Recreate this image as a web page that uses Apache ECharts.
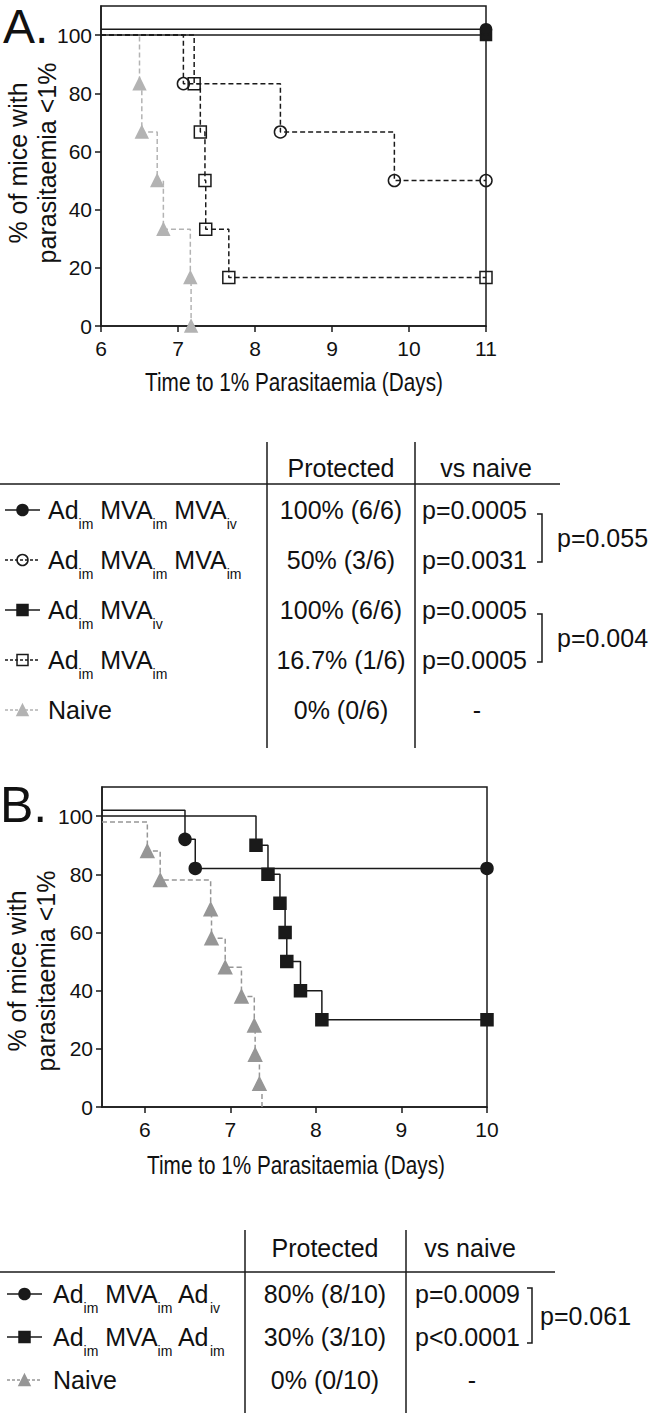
<!DOCTYPE html>
<html><head><meta charset="utf-8">
<script src="https://cdn.jsdelivr.net/npm/echarts@6/dist/echarts.min.js"></script>
<style>html,body{margin:0;padding:0;background:#fff}#c{width:650px;height:1413px}</style>
</head><body><div id="c"></div>
<script>
// ---------------- DATA ----------------
const panelLetters = ['A.', 'B.'];
const xTitle = 'Time to 1% Parasitaemia (Days)';
const yTitle = '% of mice with\nparasitaemia <1%';
const aXTicks = [6, 7, 8, 9, 10, 11];
const aYTicks = [0, 20, 40, 60, 80, 100];
const bXTicks = [6, 7, 8, 9, 10];
const bYTicks = [0, 20, 40, 60, 80, 100];

// Panel A: [day, % mice with parasitaemia <1%]
const aAdMvaMvaIv = [[6, 102], [11, 102]];
const aAdMvaIv    = [[6, 100], [11, 100]];
const aAdMvaMvaIm = [[6, 100], [7.07, 83.3], [8.33, 66.7], [9.81, 50], [11, 50]];
const aAdMvaIm    = [[6, 100], [7.21, 83.3], [7.29, 66.7], [7.35, 50], [7.36, 33.3], [7.66, 16.7], [11, 16.7]];
const aNaive      = [[6, 100], [6.50, 83.3], [6.53, 66.7], [6.73, 50], [6.81, 33.3], [7.16, 16.7], [7.17, 0]];

// Panel B
const bAdMvaAdIv = [[5.5, 102], [6.47, 92], [6.59, 82], [10, 82]];
const bAdMvaAdIm = [[5.5, 100], [7.30, 90], [7.44, 80], [7.58, 70], [7.64, 60], [7.66, 50], [7.82, 40], [8.07, 30], [10, 30]];
const bNaive     = [[5.5, 98], [6.03, 88], [6.18, 78], [6.77, 68], [6.78, 58], [6.94, 48], [7.13, 38], [7.28, 28], [7.29, 18], [7.34, 8], [7.37, 0]];

// Tables
const tableHeaders = ['Protected', 'vs naive'];
const tAGroups = [
  [['Ad', 'im'], ['MVA', 'im'], ['MVA', 'iv']],
  [['Ad', 'im'], ['MVA', 'im'], ['MVA', 'im']],
  [['Ad', 'im'], ['MVA', 'iv']],
  [['Ad', 'im'], ['MVA', 'im']],
  [['Naive', '']]
];
const tAProtected = ['100% (6/6)', '50% (3/6)', '100% (6/6)', '16.7% (1/6)', '0% (0/6)'];
const tAVsNaive = ['p=0.0005', 'p=0.0031', 'p=0.0005', 'p=0.0005', '-'];
const tAPairRows = [[0, 1], [2, 3]];
const tAPairP = ['p=0.055', 'p=0.004'];

const tBGroups = [
  [['Ad', 'im'], ['MVA', 'im'], ['Ad', 'iv']],
  [['Ad', 'im'], ['MVA', 'im'], ['Ad', 'im']],
  [['Naive', '']]
];
const tBProtected = ['80% (8/10)', '30% (3/10)', '0% (0/10)'];
const tBVsNaive = ['p=0.0009', 'p<0.0001', '-'];
const tBPairRows = [[0, 1]];
const tBPairP = ['p=0.061'];

// ---------------- STYLES ----------------
const FONT = "'Liberation Sans',Arial,Helvetica,sans-serif";
const INK = '#1a1a1a';
const GREY_A = '#b3b3b3';
const GREY_B = '#969696';
const STY = {
  fCircle: {symbol: 'circle', fill: INK, stroke: INK, dash: false},
  oCircle: {symbol: 'circle', fill: 'rgba(255,255,255,0)', stroke: INK, dash: true},
  fSquare: {symbol: 'rect', fill: INK, stroke: INK, dash: false},
  oSquare: {symbol: 'rect', fill: 'rgba(255,255,255,0)', stroke: INK, dash: true},
  triA: {symbol: 'triangle', fill: GREY_A, stroke: GREY_A, dash: true},
  triB: {symbol: 'triangle', fill: GREY_B, stroke: GREY_B, dash: true}
};

const chart = echarts.init(document.getElementById('c'), null, {renderer: 'svg', width: 650, height: 1413});

function km(data, sty, size, axis, markFirst, markLast, z) {
  return {
    type: 'line', xAxisIndex: axis, yAxisIndex: axis, step: 'end',
    data: data.map((p, i) => {
      const mark = (i === 0 ? markFirst : true) && (i === data.length - 1 ? markLast : true);
      return {value: p, symbol: mark ? sty.symbol : 'none'};
    }),
    symbol: sty.symbol, symbolSize: size, showAllSymbol: true,
    lineStyle: {color: sty.stroke, width: 1.5, type: sty.dash ? [5, 3] : 'solid'},
    itemStyle: {color: sty.fill, borderColor: sty.stroke, borderWidth: 1.5},
    emphasis: {disabled: true}, silent: true, animation: false, z: z
  };
}

function xAxisCfg(grid, min, max, ticks) {
  return {
    type: 'value', gridIndex: grid, min: min, max: max,
    axisLine: {show: true, onZero: false, lineStyle: {color: INK, width: 1.5}},
    axisTick: {show: true, length: 6, customValues: ticks, lineStyle: {color: INK, width: 1.5}},
    axisLabel: {customValues: ticks, fontSize: 21, fontFamily: FONT, color: '#111', margin: 12},
    splitLine: {show: false}
  };
}
function yAxisCfg(grid, ticks) {
  return {
    type: 'value', gridIndex: grid, min: 0, max: 110,
    axisLine: {show: true, onZero: false, lineStyle: {color: INK, width: 1.5}},
    axisTick: {show: true, length: 6, customValues: ticks, lineStyle: {color: INK, width: 1.5}},
    axisLabel: {customValues: ticks, fontSize: 21, fontFamily: FONT, color: '#111', margin: 9},
    splitLine: {show: false}
  };
}

// ------------- graphic helpers -------------
const G = [];
function txt(x, y, text, size, family, align, extra, styleExtra) {
  G.push(Object.assign({type: 'text', x: x, y: y, silent: true,
    style: Object.assign({text: text, fontSize: size, fontFamily: family, fill: '#111', align: align || 'left', verticalAlign: 'middle'}, styleExtra || {})}, extra || {}));
}
function line(x1, y1, x2, y2, color, dash) {
  G.push({type: 'line', silent: true, shape: {x1: x1, y1: y1, x2: x2, y2: y2},
    style: {stroke: color || INK, lineWidth: 1.5, lineDash: dash || null}});
}
function poly(points) {
  G.push({type: 'polyline', silent: true, shape: {points: points}, style: {stroke: INK, fill: null, lineWidth: 1.5}});
}
function marker(sty, cx, cy, s) {
  const st = {fill: sty.fill, stroke: sty.stroke, lineWidth: 1.5};
  if (sty.symbol === 'circle') G.push({type: 'circle', silent: true, shape: {cx: cx, cy: cy, r: s / 2}, style: st});
  else if (sty.symbol === 'rect') G.push({type: 'rect', silent: true, shape: {x: cx - s / 2, y: cy - s / 2, width: s, height: s}, style: st});
  else G.push({type: 'polygon', silent: true, shape: {points: [[cx, cy - s / 2], [cx + s / 2, cy + s / 2], [cx - s / 2, cy + s / 2]]}, style: st});
}
function groupLabel(parts) {
  return parts.map((p, i) => '{m|' + (i ? ' ' : '') + p[0] + '}' + (p[1] ? '{s|' + p[1] + '}' : '')).join('');
}
const RICH = {
  m: {fontSize: 25, fontFamily: FONT, fill: '#111', lineHeight: 34},
  s: {fontSize: 14, fontFamily: FONT, fill: '#111', height: 7, verticalAlign: 'bottom'}
};

function table(cfg) {
  txt(cfg.colC1, cfg.headY, tableHeaders[0], 25, FONT, 'center');
  txt(cfg.colC2, cfg.headY, tableHeaders[1], 25, FONT, 'center');
  line(0, cfg.ruleY, cfg.ruleX2, cfg.ruleY);
  line(cfg.v1, cfg.vTop, cfg.v1, cfg.vBot);
  line(cfg.v2, cfg.vTop, cfg.v2, cfg.vBot);
  cfg.groups.forEach((g, i) => {
    const y = cfg.row0 + i * cfg.step;
    const sty = cfg.styles[i];
    line(cfg.mx1, y, cfg.mx2, y, sty.stroke, sty.dash ? [3, 2] : null);
    marker(sty, (cfg.mx1 + cfg.mx2) / 2, y, cfg.msize);
    G.push({type: 'text', x: cfg.labelX, y: y, silent: true,
      style: {text: groupLabel(g), rich: RICH, align: 'left', verticalAlign: 'middle', fontSize: 25, fontFamily: FONT}});
    txt(cfg.colC1, y, cfg.prot[i], 25, FONT, 'center');
    if (cfg.vs[i] === '-') txt(cfg.dashX, y, cfg.vs[i], 25, FONT, 'center');
    else txt(cfg.pX, y, cfg.vs[i], 25, FONT, 'left');
  });
  cfg.pairRows.forEach((pr, k) => {
    const yt = cfg.row0 + pr[0] * cfg.step + cfg.brTop;
    const yb = cfg.row0 + pr[1] * cfg.step + cfg.brBot;
    poly([[cfg.brX - 5, yt], [cfg.brX, yt], [cfg.brX, yb], [cfg.brX - 5, yb]]);
    txt(cfg.pairX, (yt + yb) / 2, cfg.pairP[k], 25, FONT, 'left');
  });
}

// panel letters and axis titles
txt(3, 26, panelLetters[0], 48, FONT, 'left', null, {lineHeight: 44});
txt(0, 805, panelLetters[1], 50, FONT, 'left', null, {lineHeight: 40});
txt(294, 382, xTitle, 25, FONT, 'center', {scaleX: 0.83});
txt(296, 1165, xTitle, 25, FONT, 'center', {scaleX: 0.83});
G.push({type: 'text', x: 32, y: 163, rotation: Math.PI / 2, silent: true,
  style: {text: yTitle, fontSize: 25, fontFamily: FONT, fill: '#111', align: 'center', verticalAlign: 'middle', lineHeight: 29}});
G.push({type: 'text', x: 31, y: 971, rotation: Math.PI / 2, silent: true,
  style: {text: yTitle, fontSize: 25, fontFamily: FONT, fill: '#111', align: 'center', verticalAlign: 'middle', lineHeight: 29}});

table({groups: tAGroups, prot: tAProtected, vs: tAVsNaive, pairRows: tAPairRows, pairP: tAPairP,
  styles: [STY.fCircle, STY.oCircle, STY.fSquare, STY.oSquare, STY.triA],
  headY: 468, ruleY: 484, ruleX2: 560, v1: 267, v2: 415, vTop: 442, vBot: 748,
  row0: 510, step: 50, mx1: 5, mx2: 40, msize: 11, labelX: 48, colC1: 341, colC2: 486,
  pX: 422, dashX: 477, brX: 542, brTop: 4, brBot: 2, pairX: 557});
table({groups: tBGroups, prot: tBProtected, vs: tBVsNaive, pairRows: tBPairRows, pairP: tBPairP,
  styles: [STY.fCircle, STY.fSquare, STY.triB],
  headY: 1248, ruleY: 1272, ruleX2: 555, v1: 245, v2: 406, vTop: 1230, vBot: 1413,
  row0: 1294, step: 43, mx1: 7, mx2: 42, msize: 11, labelX: 53, colC1: 325, colC2: 470,
  pX: 415, dashX: 472, brX: 532, brTop: -6, brBot: 6, pairX: 540});

chart.setOption({
  animation: false,
  backgroundColor: '#fff',
  grid: [
    {left: 101, top: 6, width: 385, height: 320, show: true, borderColor: INK, borderWidth: 1.5, containLabel: false},
    {left: 102, top: 787, width: 385, height: 320, show: true, borderColor: INK, borderWidth: 1.5, containLabel: false}
  ],
  xAxis: [xAxisCfg(0, 6, 11, aXTicks), xAxisCfg(1, 5.5, 10, bXTicks)],
  yAxis: [yAxisCfg(0, aYTicks), yAxisCfg(1, bYTicks)],
  series: [
    km(aNaive, STY.triA, 12, 0, false, true, 2),
    km(aAdMvaIm, STY.oSquare, 12, 0, false, true, 3),
    km(aAdMvaMvaIm, STY.oCircle, 12, 0, false, true, 4),
    km(aAdMvaIv, STY.fSquare, 11, 0, false, true, 5),
    km(aAdMvaMvaIv, STY.fCircle, 11, 0, false, true, 6),
    km(bNaive, STY.triB, 13, 1, false, false, 2),
    km(bAdMvaAdIm, STY.fSquare, 12, 1, false, true, 3),
    km(bAdMvaAdIv, STY.fCircle, 12, 1, false, true, 4)
  ],
  graphic: {elements: G}
});
</script></body></html>
